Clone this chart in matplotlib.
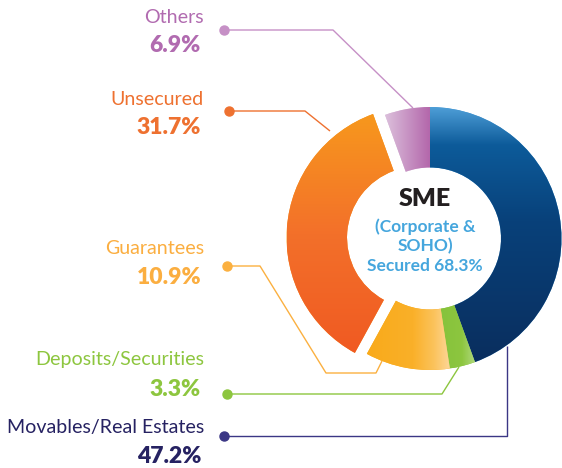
import numpy as np
import matplotlib
matplotlib.use("Agg")
import matplotlib.pyplot as plt
from matplotlib.colors import LinearSegmentedColormap

# collateral mix, SME (corporate & SOHO)
labels = ["Movables/Real Estates", "Deposits/Securities", "Guarantees", "Unsecured", "Others"]
shares = [47.2, 3.3, 10.9, 31.7, 6.9]
secured_total = 68.3
# the slices in the graphic are not drawn to the printed figures;
# these are the arc sizes (degrees) as they appear in the picture
drawn_arc = [160.0, 11.3, 37.4, 131.3, 20.0]

W, H = 562, 468
FONT = "Lato"

# gradient stops per slice and direction ("down" = top->bottom, "right" = left->right)
grads = [
    ([(0, "#4f9fd8"), (0.15, "#0d5b9a"), (0.45, "#08417a"), (1, "#0a2e5e")], "down"),
    ([(0, "#86c33c"), (0.6, "#8dc63f"), (1, "#b2da80")], "right"),
    ([(0, "#f9aa1a"), (0.55, "#fab029"), (0.8, "#fbc35c"), (1, "#fdd79c")], "right"),
    ([(0, "#f7981d"), (0.5, "#f3702a"), (1, "#f05a22")], "down"),
    ([(0, "#dcc0dc"), (1, "#b367ab")], "right"),
]
text_cols = ["#262262", "#8dc63f", "#fbae40", "#ee7130", "#b16bb0"]
line_cols = ["#3b3785", "#8dc63f", "#fbb040", "#ee7130", "#c690c6"]

# leader-line paths (pixels from top-left), dot first
leaders = [
    [(224, 436), (507, 436), (507, 346)],
    [(227, 394), (442, 394), (459, 367)],
    [(227, 266), (260, 266), (326, 373), (376, 373), (382, 361)],
    [(229, 111), (305, 111), (330, 131)],
    [(224, 30), (333, 30), (413, 108)],
]
# label baselines (pixels from top)
name_y = [433, 365, 254, 105, 23]
pct_y = [463, 396, 284, 134, 52]

fig = plt.figure(figsize=(W / 100, H / 100), dpi=100)
ax = fig.add_axes([0, 0, 1, 1])

cx, cy, R = 430, H - 238.5, 131.5
wedges, _ = ax.pie(drawn_arc, startangle=90, counterclock=False, radius=R,
                   center=(cx, cy), explode=[0, 0, 0, 12, 0],
                   wedgeprops=dict(width=60.5, linewidth=0))

for w, (cols, d) in zip(wedges, grads):
    w.set_facecolor(cols[0][1])
    bb = w.get_path().get_extents()
    cmap = LinearSegmentedColormap.from_list("g", cols)
    g = np.linspace(0, 1, 256)
    if d == "down":
        img = g[::-1].reshape(-1, 1)
    else:
        img = g.reshape(1, -1)
    im = ax.imshow(img, cmap=cmap, extent=(bb.x0, bb.x1, bb.y0, bb.y1),
                   origin="lower", aspect="auto", interpolation="bicubic", zorder=2)
    im.set_clip_path(w)

# leader lines with dots
for pts, c in zip(leaders, line_cols):
    xs = [p[0] for p in pts]
    ys = [H - p[1] for p in pts]
    ax.plot(xs, ys, color=c, lw=1.0, zorder=3, solid_capstyle="butt")
    ax.plot(xs[0], ys[0], "o", color=c, ms=6.5, zorder=4)

for i, lab in enumerate(labels):
    ax.text(204, H - name_y[i], lab, ha="right", va="baseline",
            fontsize=14.1, color=text_cols[i], family=FONT)
    ax.text(201, H - pct_y[i], f"{shares[i]}%", ha="right", va="baseline",
            fontsize=16.5, color=text_cols[i], family=FONT, fontweight="heavy")

# centre text
ax.text(425, H - 206, "SME", ha="center", va="baseline", fontsize=18,
        fontweight="heavy", color="#231f20", family=FONT)
blue = "#45a6dd"
ax.text(425, H - 232, "(Corporate &", ha="center", va="baseline", fontsize=12.5,
        fontweight="bold", color=blue, family=FONT)
ax.text(425, H - 251, "SOHO)", ha="center", va="baseline", fontsize=12.5,
        fontweight="bold", color=blue, family=FONT)
ax.text(425, H - 271, f"Secured {secured_total}%", ha="center", va="baseline",
        fontsize=12.5, fontweight="bold", color=blue, family=FONT)

ax.set_xlim(0, W)
ax.set_ylim(0, H)
ax.set_aspect("auto")
ax.axis("off")

fig.savefig("out.png", dpi=100, facecolor="white")
